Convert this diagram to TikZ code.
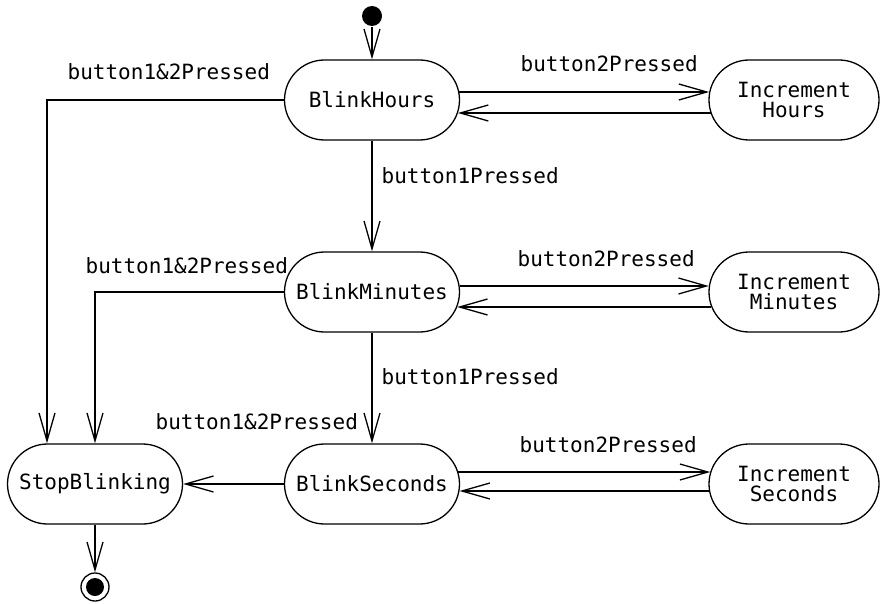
\documentclass[tikz,border=0pt]{standalone}
\usepackage{fontspec}
\setmonofont{DejaVu Sans Mono}
\usetikzlibrary{arrows.meta,calc}
\begin{document}
\begin{tikzpicture}[x=1pt,y=-1pt,
  font=\ttfamily\fontsize{21}{20}\selectfont,
  line width=1.3pt,
  state/.style={draw, rectangle, rounded corners=40pt, minimum width=175pt, minimum height=80pt, inner sep=0pt, align=center},
  inc/.style={state, minimum width=170pt},
  arr/.style={-{Straight Barb[length=28pt,width=16pt]}},
  lbl/.style={anchor=base west, inner sep=0pt}]
\useasboundingbox (0,0) rectangle (880,604);
\node[state] (BH) at (372,100) {BlinkHours};
\node[inc] (IH) at (794,100) {Increment\\Hours};
\node[state] (BM) at (372,292) {BlinkMinutes};
\node[inc] (IM) at (794,292) {Increment\\Minutes};
\node[state] (BS) at (372,484) {BlinkSeconds};
\node[inc] (IS) at (794,484) {Increment\\Seconds};
\node[state] (SB) at (95,484) {StopBlinking};
\node[circle, fill, inner sep=0pt, minimum size=20pt] (init) at (372,16) {};
\node[circle, draw, inner sep=0pt, minimum size=28pt] (fin) at (95,587) {};
\node[circle, fill, inner sep=0pt, minimum size=18pt] (finc) at (fin) {};
\draw[arr] (init) -- (BH);
\draw[arr] ($(BH.east)+(-0.8,-8)$) -- ($(IH.west)+(0.8,-8)$);
\draw[arr] ($(IH.west)+(2.2,13)$) -- ($(BH.east)+(-2.2,13)$);
\draw[arr] ($(BM.east)+(-0.5,-6)$) -- ($(IM.west)+(0.5,-6)$);
\draw[arr] ($(IM.west)+(3,15)$) -- ($(BM.east)+(-3,15)$);
\draw[arr] ($(BS.east)+(-1.9,-12)$) -- ($(IS.west)+(1.9,-12)$);
\draw[arr] ($(IS.west)+(0.6,7)$) -- ($(BS.east)+(-0.6,7)$);
\draw[arr] (BH) -- (BM);
\draw[arr] (BM) -- (BS);
\coordinate (c1) at (47,0);
\draw[arr] (BH.west) -| (c1 |- SB.north);
\draw[arr] (BM.west) -| (SB.north);
\draw[arr] (BS.west) -- (SB.east);
\draw[arr] (SB.south) -- (fin.north);
\node[lbl] (l1) at (67,80) {button1\&2Pressed};
\node[lbl] (l2) at (520,72) {button2Pressed};
\node[lbl] (l3) at (381,184) {button1Pressed};
\node[lbl] (l4) at (85,273) {button1\&2Pressed};
\node[lbl] (l5) at (517,266) {button2Pressed};
\node[lbl] (l6) at (381,384) {button1Pressed};
\node[lbl] (l7) at (155,429) {button1\&2Pressed};
\node[lbl] (l8) at (519,452) {button2Pressed};
\end{tikzpicture}
\end{document}
